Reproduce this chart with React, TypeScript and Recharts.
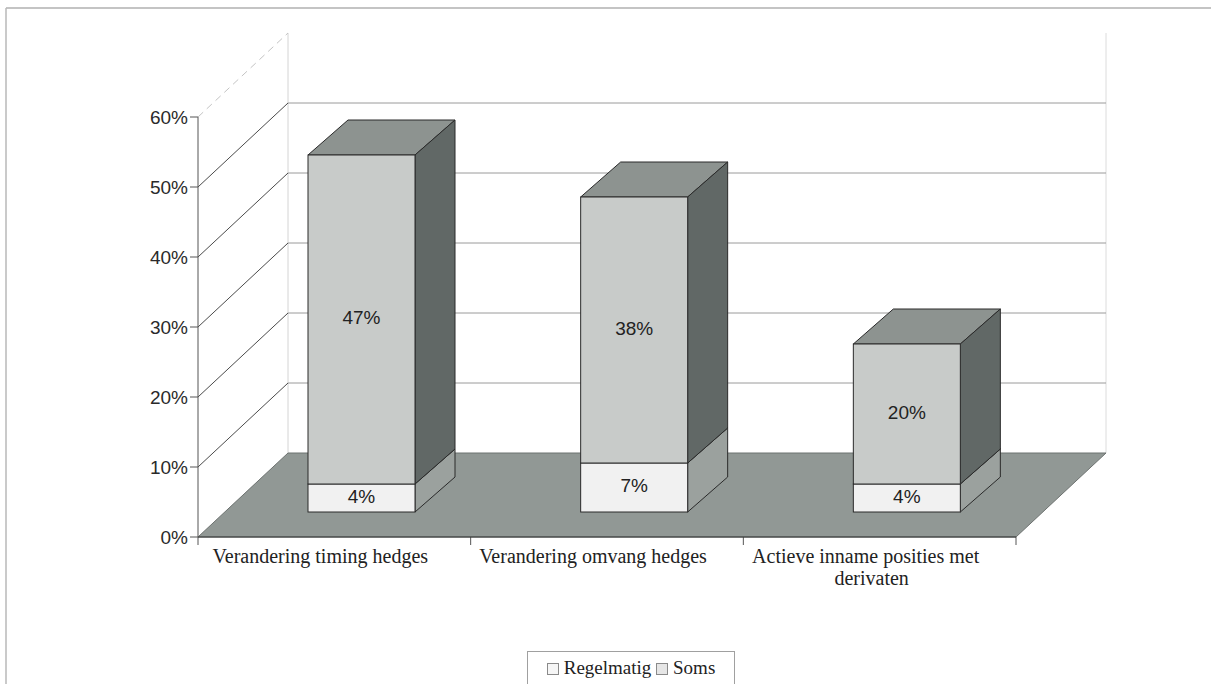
import React from "react";
import { BarChart, Bar, XAxis, YAxis, LabelList } from "recharts";

const categories = [
  "Verandering timing hedges",
  "Verandering omvang hedges",
  "Actieve inname posities met derivaten",
];
const regelmatig = [4, 7, 4];
const soms = [47, 38, 20];
const yTicks = [0, 10, 20, 30, 40, 50, 60];

const data = categories.map((name, i) => ({ name, regelmatig: regelmatig[i], soms: soms[i] }));

const W = 1211;
const H = 684;
// front plane of the plot
const PLOT = { left: 198, top: 117, right: 1016, bottom: 537 };
const Y_MAX = 60;
// depth of the box (walls / floor) and of the bars
const WALL = { dx: 90, dy: -84 };
const BAR_SHIFT = { dx: 27, dy: -25 };
const BAR_DEPTH = { dx: 40, dy: -35 };
const Y_AXIS_W = 70;
const X_AXIS_H = 70;

const yPos = (v: number) => PLOT.bottom - (v / Y_MAX) * (PLOT.bottom - PLOT.top);

// simple word wrap by character count
function wrap(s: string, max: number) {
  const lines: string[] = [];
  let cur = "";
  s.split(" ").forEach((w) => {
    const next = cur ? `${cur} ${w}` : w;
    if (next.length > max && cur) {
      lines.push(cur);
      cur = w;
    } else cur = next;
  });
  if (cur) lines.push(cur);
  return lines;
}

function Prism(props: any) {
  const { x, y, width, height, face, side, top } = props;
  if (!height) return null;
  const x0 = x + BAR_SHIFT.dx;
  const y0 = y + BAR_SHIFT.dy;
  const { dx, dy } = BAR_DEPTH;
  const stroke = "#2a2a2a";
  return (
    <g>
      <polygon
        points={`${x0},${y0} ${x0 + width},${y0} ${x0 + width + dx},${y0 + dy} ${x0 + dx},${y0 + dy}`}
        fill={top}
        stroke={stroke}
        strokeWidth={1}
      />
      <polygon
        points={`${x0 + width},${y0} ${x0 + width + dx},${y0 + dy} ${x0 + width + dx},${y0 + height + dy} ${x0 + width},${y0 + height}`}
        fill={side}
        stroke={stroke}
        strokeWidth={1}
      />
      <rect x={x0} y={y0} width={width} height={height} fill={face} stroke={stroke} strokeWidth={1} />
    </g>
  );
}

function ValueLabel(props: any) {
  const { x, y, width, height, value } = props;
  return (
    <text
      x={x + width / 2 + BAR_SHIFT.dx}
      y={y + height / 2 + BAR_SHIFT.dy - 2}
      textAnchor="middle"
      dominantBaseline="central"
      fontFamily="'Liberation Sans', Arial, sans-serif"
      fontSize={19}
      fill="#222"
    >
      {`${value}%`}
    </text>
  );
}

function CatTick(props: any) {
  const { x, y, payload } = props;
  const lines = wrap(String(payload.value), 28);
  return (
    <text
      x={x - 14}
      y={y + 18}
      textAnchor="middle"
      fontFamily="'Liberation Serif', 'Times New Roman', serif"
      fontSize={20}
      fill="#222"
    >
      {lines.map((l, i) => (
        <tspan key={i} x={x - 14 + (i > 0 ? 6 : 0)} dy={i === 0 ? 0 : 22}>
          {l}
        </tspan>
      ))}
    </text>
  );
}

function Box3D() {
  const backL = PLOT.left + WALL.dx;
  const backR = PLOT.right + WALL.dx;
  const step = (PLOT.right - PLOT.left) / categories.length;
  return (
    <svg width={W} height={H} style={{ position: "absolute", left: 0, top: 0 }}>
      {/* frame */}
      <line x1={6} y1={8} x2={W} y2={8} stroke="#b0b0b0" strokeWidth={1.5} />
      <line x1={6} y1={8} x2={6} y2={H} stroke="#b8b8b8" strokeWidth={1.5} />
      {/* back wall */}
      <line x1={backL} y1={yPos(Y_MAX) + WALL.dy} x2={backL} y2={yPos(0) + WALL.dy} stroke="#d4d4d4" />
      <line x1={backR} y1={yPos(Y_MAX) + WALL.dy} x2={backR} y2={yPos(0) + WALL.dy} stroke="#dcdcdc" />
      {yTicks.filter((t) => t > 0 && t < Y_MAX).map((t) => (
        <line key={`h${t}`} x1={backL} y1={yPos(t) + WALL.dy} x2={backR} y2={yPos(t) + WALL.dy} stroke="#9a9a9a" />
      ))}
      {/* side wall */}
      {yTicks.filter((t) => t > 0).map((t) => (
        <line
          key={`d${t}`}
          x1={PLOT.left}
          y1={yPos(t)}
          x2={backL}
          y2={yPos(t) + WALL.dy}
          stroke={t === Y_MAX ? "#c4c4c4" : "#4a4a4a"}
          strokeDasharray={t === Y_MAX ? "7 5" : undefined}
        />
      ))}
      {/* floor */}
      <polygon
        points={`${PLOT.left},${PLOT.bottom} ${PLOT.right},${PLOT.bottom} ${backR},${PLOT.bottom + WALL.dy} ${backL},${PLOT.bottom + WALL.dy}`}
        fill="#919895"
        stroke="#6d7270"
      />
      {/* category boundary ticks */}
      {categories.map((_, i) => i + 1).concat([0]).map((i) => (
        <line key={`t${i}`} x1={PLOT.left + i * step} y1={PLOT.bottom} x2={PLOT.left + i * step} y2={PLOT.bottom + 8} stroke="#555" />
      ))}
    </svg>
  );
}

function LegendBox() {
  const sq = (bg: string) => (
    <span
      style={{
        display: "inline-block",
        width: 10,
        height: 10,
        border: "1px solid #8a8a8a",
        background: bg,
        marginRight: 5,
        verticalAlign: "-1px",
      }}
    />
  );
  return (
    <div
      style={{
        position: "absolute",
        left: 527,
        top: 651,
        width: 208,
        height: 40,
        boxSizing: "border-box",
        border: "1px solid #a0a0a0",
        background: "#fff",
        fontFamily: "'Liberation Serif', 'Times New Roman', serif",
        fontSize: 19,
        color: "#222",
        paddingTop: 5,
        textAlign: "center",
        whiteSpace: "nowrap",
      }}
    >
      {sq("#f6f6f6")}Regelmatig {sq("#e6e6e6")}Soms
    </div>
  );
}

export default function App() {
  return (
    <div style={{ position: "absolute", left: 0, top: 0, width: W, height: H, background: "#fff", overflow: "hidden" }}>
      <Box3D />
      <div style={{ position: "absolute", left: 0, top: 0 }}>
        <BarChart
          width={W}
          height={H}
          data={data}
          margin={{
            top: PLOT.top,
            right: W - PLOT.right,
            bottom: H - PLOT.bottom - X_AXIS_H,
            left: PLOT.left - Y_AXIS_W,
          }}
        >
          <XAxis
            dataKey="name"
            height={X_AXIS_H}
            interval={0}
            tickLine={false}
            axisLine={{ stroke: "#333" }}
            tick={<CatTick />}
          />
          <YAxis
            width={Y_AXIS_W}
            domain={[0, Y_MAX]}
            ticks={yTicks}
            interval={0}
            tickSize={8}
            tickFormatter={(v: number) => `${v}%`}
            axisLine={{ stroke: "#555" }}
            tickLine={{ stroke: "#555" }}
            tick={{ fontFamily: "'Liberation Sans', Arial, sans-serif", fontSize: 19, fill: "#2a2a2a" }}
          />
          <Bar
            dataKey="regelmatig"
            stackId="a"
            barSize={107}
            isAnimationActive={false}
            shape={(p: any) => <Prism {...p} face="#f1f1f1" side="#9ba19e" top="#8c928f" />}
          >
            <LabelList dataKey="regelmatig" content={<ValueLabel />} />
          </Bar>
          <Bar
            dataKey="soms"
            stackId="a"
            barSize={107}
            isAnimationActive={false}
            shape={(p: any) => <Prism {...p} face="#c8cbc9" side="#616866" top="#8d9390" />}
          >
            <LabelList dataKey="soms" content={<ValueLabel />} />
          </Bar>
        </BarChart>
      </div>
      <LegendBox />
    </div>
  );
}
